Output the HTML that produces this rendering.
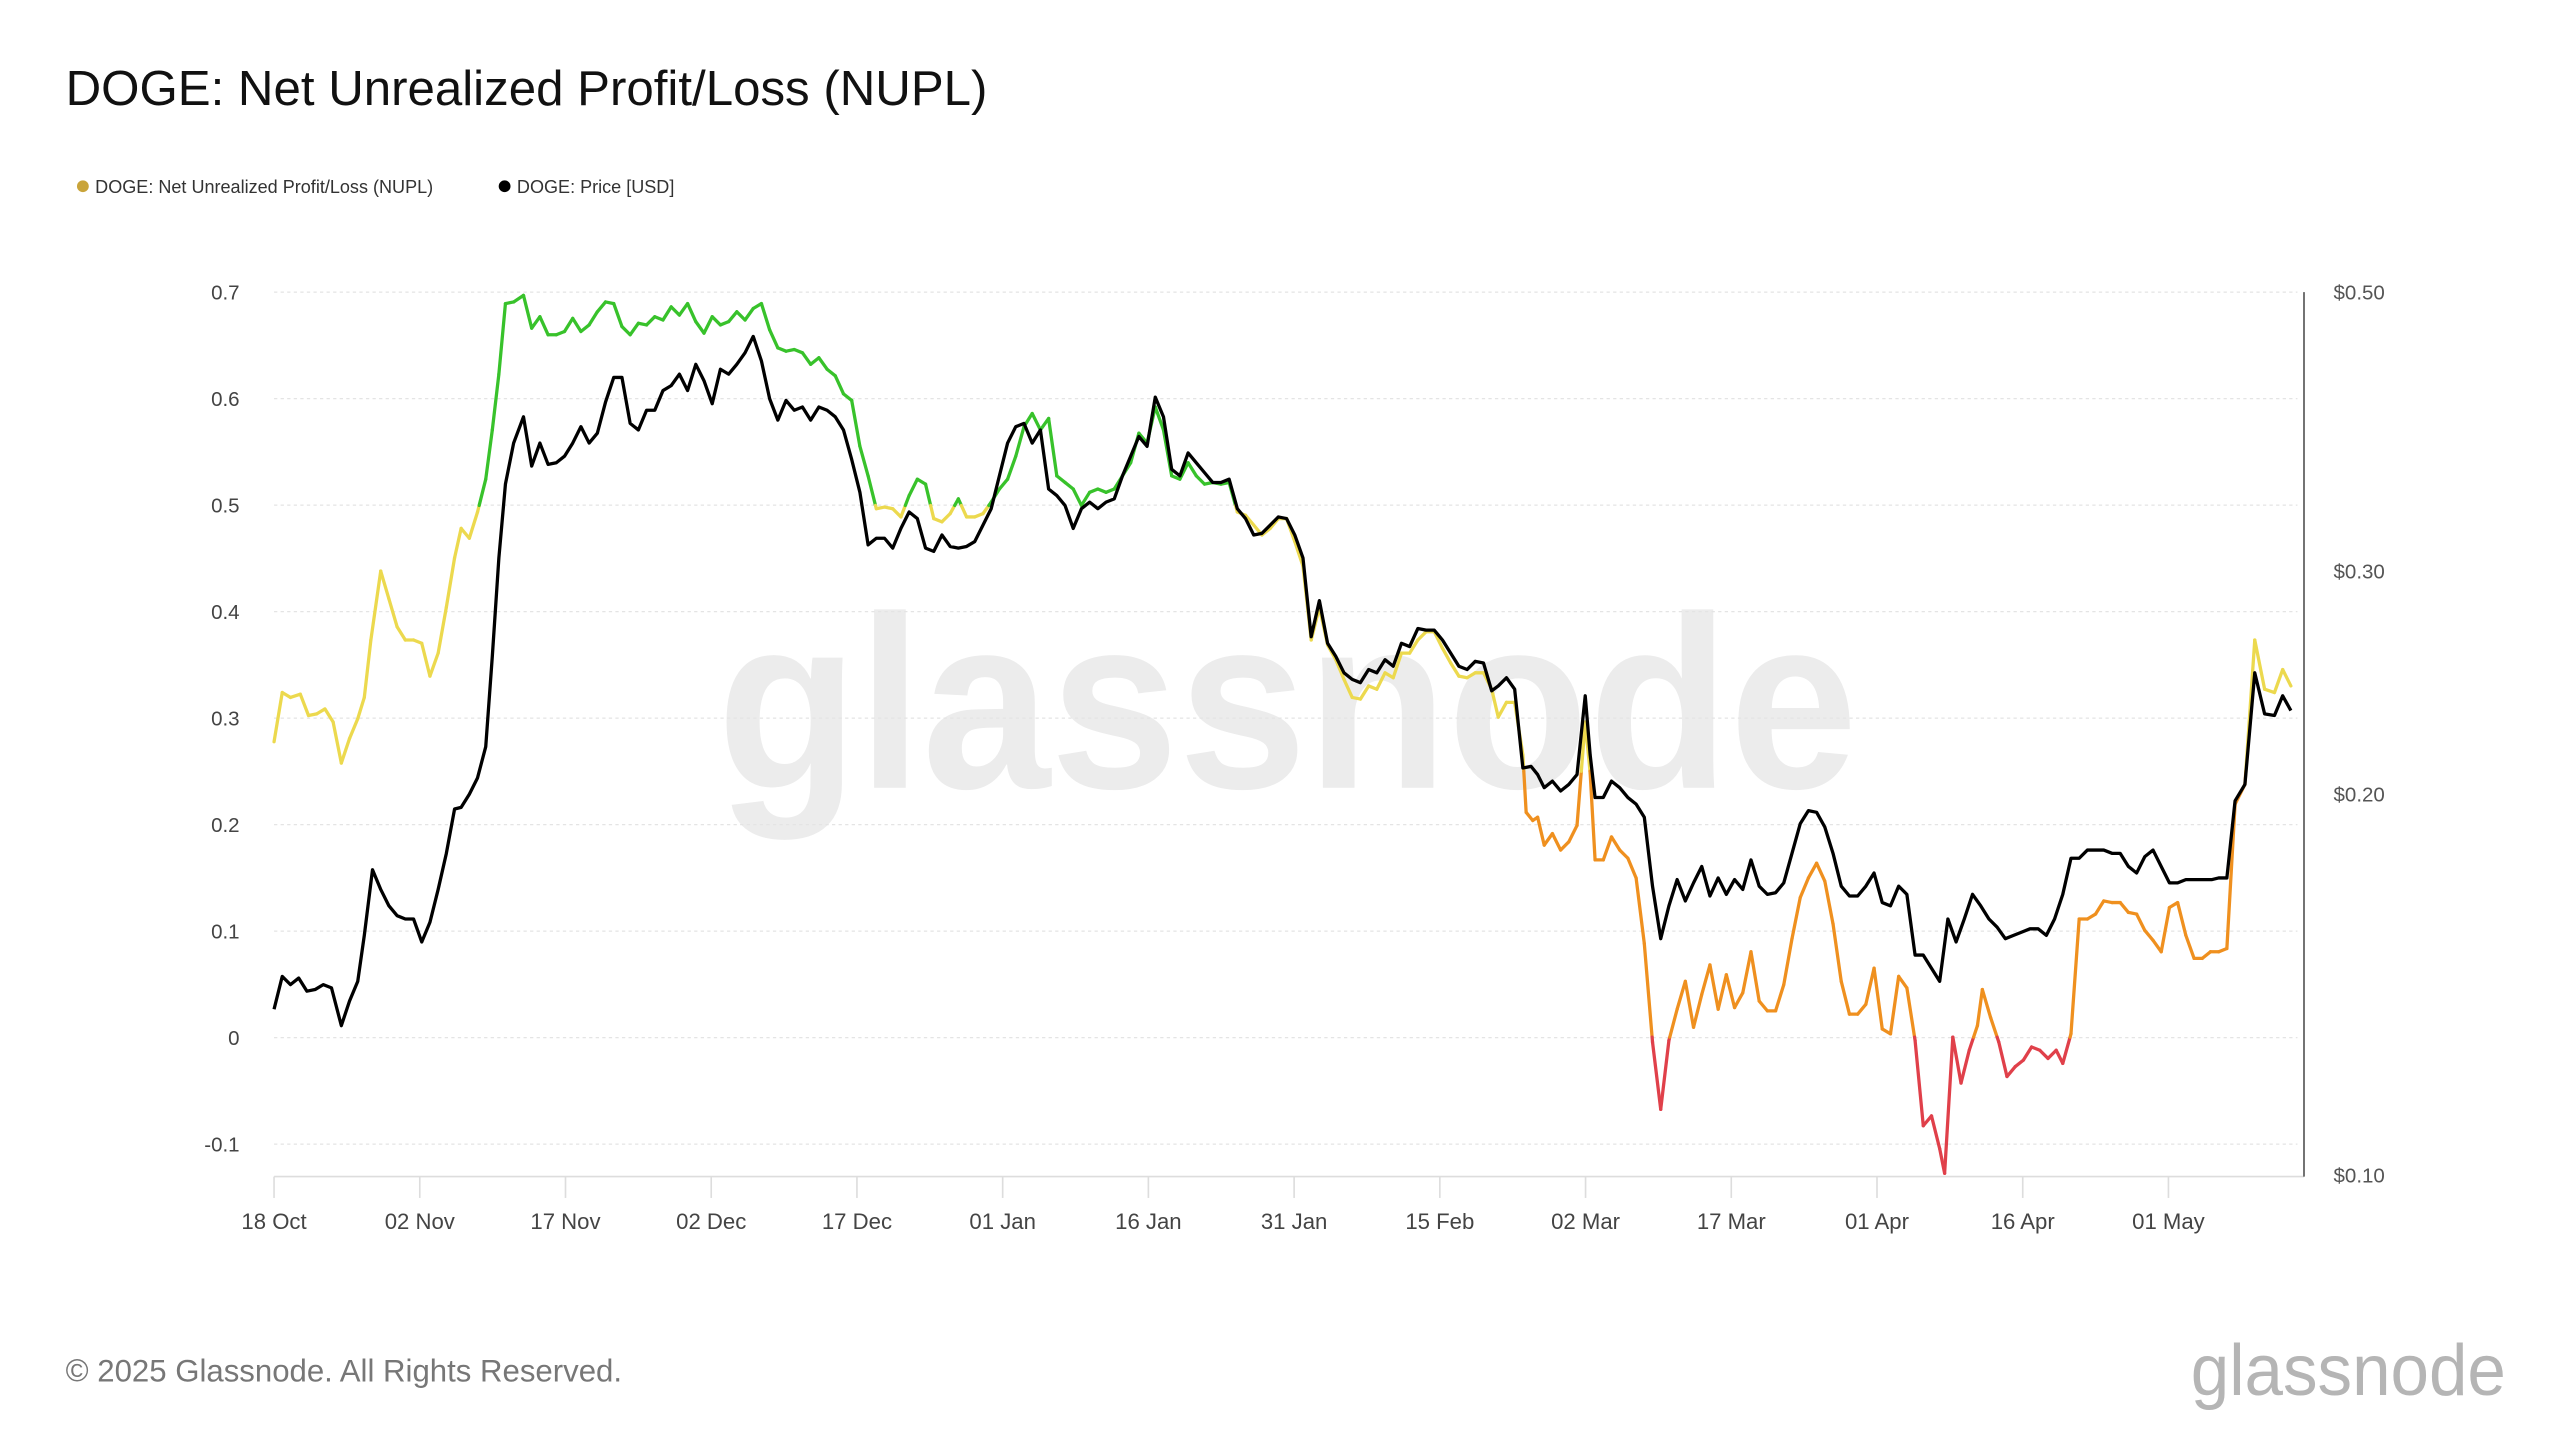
<!DOCTYPE html>
<html><head><meta charset="utf-8"><style>
html,body{margin:0;padding:0;background:#fff;width:2560px;height:1440px;overflow:hidden}
svg{display:block}
text{font-family:"Liberation Sans",sans-serif}
</style></head><body>
<svg id="s" width="2560" height="1440" viewBox="0 0 1560 877.5" xmlns="http://www.w3.org/2000/svg">
<text x="40" y="64" font-size="30" fill="#111">DOGE: Net Unrealized Profit/Loss (NUPL)</text>
<circle cx="50.5" cy="113.5" r="3.6" fill="#c9a43a"/>
<text x="58" y="117.5" font-size="11" fill="#333">DOGE: Net Unrealized Profit/Loss (NUPL)</text>
<circle cx="307.5" cy="113.5" r="3.6" fill="#000"/>
<text x="315" y="117.5" font-size="11" fill="#333">DOGE: Price [USD]</text>
<text x="437" y="480" font-size="150" fill="#ececec" font-weight="bold" textLength="695" lengthAdjust="spacingAndGlyphs">glassnode</text>
<g id="grid"></g>
<g id="lines"></g>
<text x="40" y="842" font-size="19" fill="#777">© 2025 Glassnode. All Rights Reserved.</text>
<text x="1335" y="850" font-size="44" fill="#b5b5b5" textLength="192" lengthAdjust="spacingAndGlyphs">glassnode</text>
</svg>
<script>
const NS="http://www.w3.org/2000/svg";
function el(t,a,p,txt){const e=document.createElementNS(NS,t);for(const k in a)e.setAttribute(k,a[k]);if(txt!==undefined)e.textContent=txt;p.appendChild(e);return e;}
const g=document.getElementById('grid'),L=document.getElementById('lines');
const labs=["0.7","0.6","0.5","0.4","0.3","0.2","0.1","0","-0.1"];
labs.forEach((l,i)=>{const y=178+i*64.9;
 el('line',{x1:167,x2:1400,y1:y,y2:y,stroke:'#e4e4e4','stroke-width':0.8,'stroke-dasharray':'2,2'},g);
 el('text',{x:146,y:y+4.5,'font-size':12.5,fill:'#444','text-anchor':'end'},g,l);});
el('line',{x1:167,x2:1404,y1:717,y2:717,stroke:'#ddd','stroke-width':1},g);
el('line',{x1:1404,x2:1404,y1:178,y2:717,stroke:'#555','stroke-width':1},g);
const xl=["18 Oct","02 Nov","17 Nov","02 Dec","17 Dec","01 Jan","16 Jan","31 Jan","15 Feb","02 Mar","17 Mar","01 Apr","16 Apr","01 May"];
xl.forEach((l,i)=>{const x=167+i*88.8;
 el('line',{x1:x,x2:x,y1:717,y2:730,stroke:'#ddd','stroke-width':1},g);
 el('text',{x:x,y:749,'font-size':13.5,fill:'#444','text-anchor':'middle'},g,l);});
[["$0.50",178],["$0.30",348],["$0.20",484],["$0.10",716]].forEach(a=>el('text',{x:1422,y:a[1]+4.5,'font-size':12.5,fill:'#555'},g,a[0]));
const N=[[167,452],[172,422],[177,425],[183,423],[188,436],[193,435],[198,432],[203,440],[208,465],[213,450],[218,438],[222,425],[226,390],[232,348],[237,365],[242,382],[247,390],[252,390],[257,392],[262,412],[267,398],[272,370],[277,340],[281,322],[286,328],[291,312],[296,292],[300,262],[304,228],[308,185],[313,184],[319,180],[324,200],[329,193],[334,204],[339,204],[344,202],[349,194],[354,202],[359,198],[364,190],[369,184],[374,185],[379,199],[384,204],[389,197],[394,198],[399,193],[404,195],[409,187],[414,192],[419,185],[424,196],[429,203],[434,193],[439,198],[444,196],[449,190],[454,195],[459,188],[464,185],[469,201],[474,212],[479,214],[484,213],[489,215],[494,222],[499,218],[504,225],[509,229],[514,240],[519,244],[524,272],[529,290],[534,310],[539,309],[544,310],[549,315],[554,302],[559,292],[564,295],[569,316],[574,318],[579,313],[584,304],[589,315],[594,315],[599,313],[604,306],[609,298],[614,292],[619,278],[624,260],[629,252],[634,262],[639,255],[644,290],[649,294],[654,298],[659,308],[664,300],[669,298],[674,300],[679,298],[684,290],[689,282],[694,264],[699,270],[704,248],[709,262],[714,290],[719,292],[724,282],[729,290],[734,295],[739,294],[744,295],[749,294],[754,312],[759,314],[764,320],[769,326],[774,322],[779,316],[784,316],[789,330],[794,345],[799,390],[804,370],[809,393],[814,402],[819,414],[824,425],[829,426],[834,418],[839,420],[844,410],[849,413],[854,398],[859,398],[864,390],[869,385],[874,385],[879,395],[884,404],[889,412],[894,413],[899,410],[904,410],[909,420],[913,437],[918,428],[923,428],[928,460],[930,495],[934,500],[937,498],[941,515],[946,508],[951,518],[956,513],[961,503],[966,440],[969,471],[972,524],[977,524],[982,510],[987,518],[992,523],[997,535],[1002,575],[1007,635],[1012,676],[1017,634],[1022,615],[1027,598],[1032,626],[1037,606],[1042,588],[1047,615],[1052,594],[1057,614],[1062,605],[1067,580],[1072,610],[1077,616],[1082,616],[1087,600],[1092,572],[1097,547],[1102,535],[1107,526],[1112,537],[1117,563],[1122,598],[1127,618],[1132,618],[1137,612],[1142,590],[1147,627],[1152,630],[1157,595],[1162,602],[1167,634],[1172,686],[1177,680],[1182,700],[1185,715],[1190,632],[1195,660],[1200,640],[1205,625],[1208,603],[1213,620],[1218,635],[1223,656],[1228,650],[1233,646],[1238,638],[1243,640],[1248,645],[1253,640],[1257,648],[1262,630],[1267,560],[1272,560],[1277,557],[1282,549],[1287,550],[1292,550],[1297,556],[1302,557],[1307,567],[1312,573],[1317,580],[1322,553],[1327,550],[1332,570],[1337,584],[1342,584],[1347,580],[1352,580],[1357,578],[1362,490],[1368,478],[1374,390],[1380,420],[1386,422],[1391,408],[1396,418]];
const P=[[167,615],[172,595],[177,600],[182,596],[187,604],[192,603],[197,600],[202,602],[208,625],[213,610],[218,598],[222,570],[227,530],[232,542],[237,552],[242,558],[247,560],[252,560],[257,574],[262,562],[267,542],[272,520],[277,493],[281,492],[286,484],[291,474],[296,455],[300,400],[304,340],[308,295],[313,270],[319,254],[324,284],[329,270],[334,283],[339,282],[344,278],[349,270],[354,260],[359,270],[364,264],[369,245],[374,230],[379,230],[384,258],[389,262],[394,250],[399,250],[404,238],[409,235],[414,228],[419,238],[424,222],[429,232],[434,246],[439,225],[444,228],[449,222],[454,215],[459,205],[464,220],[469,243],[474,256],[479,244],[484,250],[489,248],[494,256],[499,248],[504,250],[509,254],[514,262],[519,280],[524,300],[529,332],[534,328],[539,328],[544,334],[549,322],[554,312],[559,316],[564,334],[569,336],[574,326],[579,333],[584,334],[589,333],[594,330],[599,320],[604,310],[609,290],[614,270],[619,260],[624,258],[629,270],[634,262],[639,298],[644,302],[649,308],[654,322],[659,310],[664,306],[669,310],[674,306],[679,304],[684,290],[689,278],[694,266],[699,272],[704,242],[709,254],[714,286],[719,290],[724,276],[729,282],[734,288],[739,294],[744,294],[749,292],[754,310],[759,316],[764,326],[769,325],[774,320],[779,315],[784,316],[789,326],[794,340],[799,388],[804,366],[809,392],[814,400],[819,410],[824,414],[829,416],[834,408],[839,410],[844,402],[849,406],[854,392],[859,394],[864,383],[869,384],[874,384],[879,390],[884,398],[889,406],[894,408],[899,403],[904,404],[909,421],[913,418],[918,413],[923,420],[928,468],[933,467],[937,472],[941,480],[946,476],[951,482],[956,478],[961,472],[966,424],[969,460],[972,486],[977,486],[982,476],[987,480],[992,486],[997,490],[1002,498],[1007,540],[1012,572],[1017,552],[1022,536],[1027,549],[1032,538],[1037,528],[1042,546],[1047,535],[1052,545],[1057,536],[1062,542],[1067,524],[1072,540],[1077,545],[1082,544],[1087,538],[1092,520],[1097,502],[1102,494],[1107,495],[1112,504],[1117,520],[1122,540],[1127,546],[1132,546],[1137,540],[1142,532],[1147,550],[1152,552],[1157,540],[1162,545],[1167,582],[1172,582],[1177,590],[1182,598],[1187,560],[1192,574],[1197,560],[1202,545],[1207,552],[1212,560],[1217,565],[1222,572],[1227,570],[1232,568],[1237,566],[1242,566],[1247,570],[1252,560],[1257,545],[1262,523],[1267,523],[1272,518],[1277,518],[1282,518],[1287,520],[1292,520],[1297,528],[1302,532],[1307,522],[1312,518],[1317,528],[1322,538],[1327,538],[1332,536],[1337,536],[1342,536],[1348,536],[1352,535],[1357,535],[1362,488],[1368,478],[1374,410],[1380,435],[1386,436],[1391,424],[1396,433]];
const TH=[308,470,632];
function col(y){return y<308?'#38c22b':y<470?'#ecd94e':y<632?'#ef901f':'#e0404a';}
for(let i=0;i<N.length-1;i++){
 let a=N[i],b=N[i+1];let pts=[a];
 const cs=TH.filter(t=>(a[1]-t)*(b[1]-t)<0).map(t=>{const f=(t-a[1])/(b[1]-a[1]);return [a[0]+f*(b[0]-a[0]),t];});
 cs.sort((p,q)=>(p[0]-q[0]));pts=pts.concat(cs);pts.push(b);
 for(let j=0;j<pts.length-1;j++){const m=(pts[j][1]+pts[j+1][1])/2;
  el('line',{x1:pts[j][0],y1:pts[j][1],x2:pts[j+1][0],y2:pts[j+1][1],stroke:col(m),'stroke-width':2,'stroke-linecap':'round'},L);}
}
el('polyline',{points:P.map(p=>p.join(',')).join(' '),fill:'none',stroke:'#000','stroke-width':2,'stroke-linejoin':'round'},L);
</script>
</body></html>
